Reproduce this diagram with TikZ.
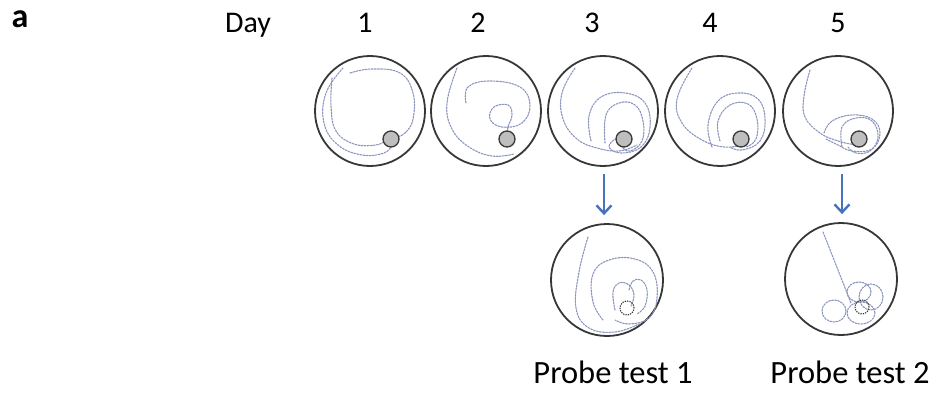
\documentclass[tikz,border=0pt]{standalone}
\usepackage{fontspec}
\setmainfont{Carlito}
\usetikzlibrary{arrows.meta}
\definecolor{trailc}{RGB}{140,150,190}
\definecolor{rimc}{RGB}{55,55,55}
\definecolor{platc}{RGB}{190,190,190}
\definecolor{arrc}{RGB}{70,115,190}
\tikzset{
  pool/.style={circle, draw=rimc, line width=1.8pt, inner sep=0pt, minimum size=110pt},
  trail/.style={draw=trailc, line width=1.1pt, dash pattern=on 1.8pt off 1.3pt, line cap=round},
  plat/.style={circle, draw=rimc, fill=platc, line width=1.3pt, inner sep=0pt, minimum size=16pt},
  hidplat/.style={circle, draw=rimc, line width=1.1pt, dash pattern=on 1.3pt off 1.1pt, inner sep=0pt, minimum size=14pt},
  arr/.style={draw=arrc, line width=2.6pt, -{Straight Barb[length=8pt,width=15pt,line width=2.4pt]}},
  lab/.style={anchor=base, inner sep=0pt, font=\fontsize{30}{34}\selectfont},
  plab/.style={anchor=base, inner sep=0pt, font=\fontsize{32.5}{38}\selectfont}
}
\begin{document}
\begin{tikzpicture}[x=1pt,y=-1pt]
\useasboundingbox (0,0) rectangle (941,393);

% labels
\node[anchor=base, inner sep=0pt, font=\fontsize{34}{38}\selectfont\bfseries] (la) at (20,28) {a};
\node[lab] (lday) at (248,33) {Day};
\node[lab] (l1) at (365,33) {1};
\node[lab] (l2) at (478,33) {2};
\node[lab] (l3) at (592,33) {3};
\node[lab] (l4) at (710,33) {4};
\node[lab] (l5) at (838,33) {5};

% pools
\node[pool] (d1) at (370,111) {};
\node[pool] (d2) at (486,111) {};
\node[pool] (d3) at (603,111) {};
\node[pool] (d4) at (720,111) {};
\node[pool] (d5) at (838,111) {};
\node[pool, minimum size=112pt] (p1) at (607,280) {};
\node[pool, minimum size=112pt] (p2) at (841,279) {};

% Day 1 trails
\begin{scope}[shift={(370,111)}]
\draw[trail] plot[smooth, tension=0.7] coordinates {(-27,-43) (-44,-18) (-46,12) (-32,34) (-8,44) (14,42) (22,34)};
\draw[trail] plot[smooth, tension=0.7] coordinates {(-38,-33) (-39,-5) (-34,20) (-16,33) (6,34) (16,29)};
\draw[trail] plot[smooth, tension=0.7] coordinates {(-20,-38) (2,-42) (30,-38) (43,-18) (43,8) (35,22) (24,27)};
\node[plat] (q1) at (21,28) {};
\end{scope}

% Day 2 trails
\begin{scope}[shift={(486,111)}]
\draw[trail] plot[smooth, tension=0.7] coordinates {(-29,-43) (-39,-8) (-34,18) (-17,36) (6,45) (28,43)};
\draw[trail] plot[smooth, tension=0.7] coordinates {(-20,-8) (-18,-24) (4,-30) (34,-24) (44,-6) (36,12) (16,16) (4,8) (8,-4) (22,-6) (26,4) (22,16) (21,26)};
\node[plat] (q2) at (21,28) {};
\end{scope}

% Day 3 trails
\begin{scope}[shift={(603,111)}]
\draw[trail] plot[smooth, tension=0.7] coordinates {(-28,-43) (-41,-18) (-40,8) (-26,28) (-6,37) (16,40) (34,34)};
\draw[trail] plot[smooth, tension=0.7] coordinates {(-12,30) (-14,5) (-2,-14) (22,-18) (42,-8) (47,16) (38,36) (18,42) (6,36) (12,28)};
\draw[trail] plot[smooth, tension=0.7] coordinates {(2,32) (3,4) (16,-8) (32,-6) (40,10) (39,30) (27,40) (19,36)};
\node[plat] (q3) at (21,28) {};
\end{scope}

% Day 4 trails
\begin{scope}[shift={(720,111)}]
\draw[trail] plot[smooth, tension=0.7] coordinates {(-28,-43) (-43,-12) (-38,12) (-18,29) (4,36) (22,34)};
\draw[trail] plot[smooth, tension=0.7] coordinates {(-8,36) (-12,14) (-2,-10) (18,-18) (38,-12) (45,8) (40,30) (22,39) (10,36)};
\draw[trail] plot[smooth, tension=0.7] coordinates {(0,30) (-2,10) (10,-6) (28,-7) (37,8) (36,28) (26,36)};
\node[plat] (q4) at (21,28) {};
\end{scope}

% Day 5 trails
\begin{scope}[shift={(838,111)}]
\draw[trail] plot[smooth, tension=0.7] coordinates {(-28,-41) (-34,-15) (-33,6) (-18,22) (0,30) (18,34)};
\draw[trail] plot[smooth, tension=0.7] coordinates {(-14,22) (-6,10) (14,4) (34,8) (42,22) (34,38) (14,40) (0,34) (-12,28)};
\draw[trail] plot[smooth, tension=0.7] coordinates {(4,36) (4,16) (18,7) (34,10) (40,26) (32,40) (18,42) (10,36)};
\node[plat] (q5) at (21,28) {};
\end{scope}

% Probe 1 trails
\begin{scope}[shift={(607,280)}]
\draw[trail] plot[smooth, tension=0.7] coordinates {(-19,-43) (-28,-8) (-31,28) (-18,48) (8,52) (32,44)};
\draw[trail] plot[smooth, tension=0.7] coordinates {(-4,40) (-14,22) (-14,-6) (2,-20) (28,-21) (46,-8) (50,18) (42,38) (22,44) (8,40)};
\draw[trail] plot[smooth, tension=0.7] coordinates {(8,30) (6,12) (12,3) (22,5) (27,15) (24,26)};
\draw[trail] plot[smooth, tension=0.7] coordinates {(22,10) (26,1) (34,0) (40,10) (38,26) (30,34)};
\node[hidplat] (h1) at (20,28) {};
\end{scope}

% Probe 2 trails
\begin{scope}[shift={(841,279)}]
\draw[trail] (-18,-47) -- (10,24);
\draw[trail] (-7,32) ellipse [x radius=12pt, y radius=11pt];
\draw[trail] (18,13) ellipse [x radius=12pt, y radius=10pt];
\draw[trail] (30,18) ellipse [x radius=12pt, y radius=13pt];
\draw[trail] (20,34) ellipse [x radius=14pt, y radius=11pt];
\node[hidplat] (h2) at (21,28) {};
\end{scope}

% arrows
\draw[arr] ([xshift=1pt,yshift=-7pt]d3.south) -- ([xshift=-3pt,yshift=8pt]p1.north);
\draw[arr] ([xshift=4pt,yshift=-7pt]d5.south) -- ([xshift=1pt,yshift=8pt]p2.north);

% probe labels
\node[plab] (pl1) at (613,383) {Probe test 1};
\node[plab] (pl2) at (850,383) {Probe test 2};
\end{tikzpicture}
\end{document}
